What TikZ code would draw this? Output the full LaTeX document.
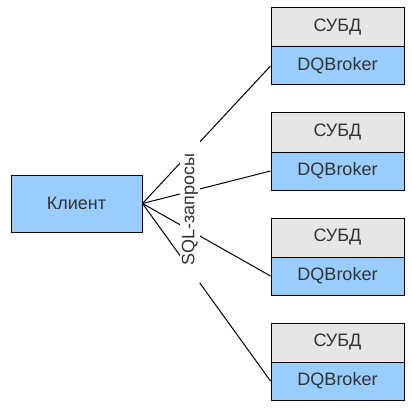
\documentclass[tikz,border=0pt]{standalone}
\usepackage{fontspec}
\setmainfont{Liberation Sans}
\definecolor{txt}{HTML}{333333}
\definecolor{blue}{HTML}{99CCFF}
\definecolor{grey}{HTML}{E6E6E6}
\begin{document}
\begin{tikzpicture}[x=1pt,y=-1pt,
  base/.style={draw=black, line width=1pt, inner sep=0pt, text=txt, font=\fontsize{18}{20}\selectfont},
  dbbox/.style={base, fill=grey, minimum width=133pt, minimum height=39pt},
  brbox/.style={base, fill=blue, minimum width=133pt, minimum height=38pt},
  clbox/.style={base, fill=blue, minimum width=131pt, minimum height=57pt},
  conn/.style={draw=black, line width=1pt},
  lbl/.style={fill=white, text=txt, inner sep=0pt, minimum width=146pt, minimum height=20pt, rotate=90, font=\fontsize{18}{20}\selectfont}]
\useasboundingbox (0,0) rectangle (412,409);
\node[clbox] (client) at (76.5,203.5) {Клиент};
\foreach \i/\t in {1/8,2/113,3/218,4/323}{
  \node[dbbox] (db\i) at (337.5,\t+19.5) {СУБД};
  \node[brbox] (br\i) at (337.5,\t+58) {DQBroker};
}
\foreach \i in {1,2,3,4}{
  \draw[conn] (client.east) -- (br\i.west);
}
\node[lbl] (sql) at (190,210) {SQL-запросы};
\end{tikzpicture}
\end{document}
